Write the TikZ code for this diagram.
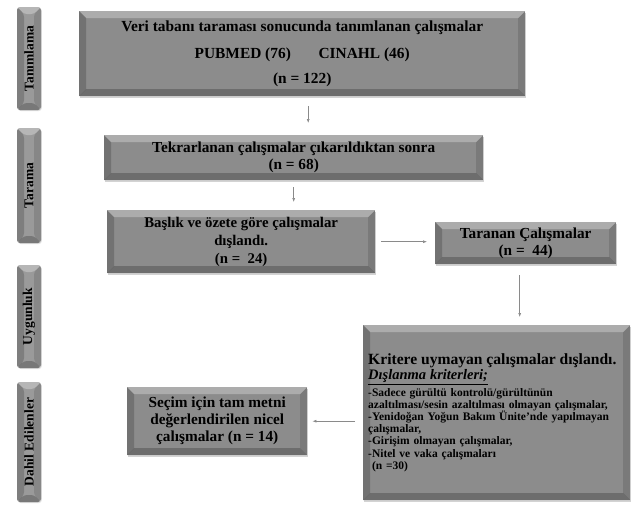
\documentclass[tikz,border=0pt]{standalone}
\usepackage{fontspec}
\setmainfont{Liberation Serif}
\usetikzlibrary{arrows.meta,shadows}
\definecolor{boxgray}{HTML}{8C8C8C}
\definecolor{stagegray}{HTML}{9A9A9A}
\definecolor{linegray}{HTML}{8A8A8A}

\tikzset{
	bevel/.style={path picture={
		\fill[white,opacity=.28] (path picture bounding box.north west) -- (path picture bounding box.north east)
			-- ([shift={(-7pt,-7pt)}]path picture bounding box.north east) -- ([shift={(7pt,-7pt)}]path picture bounding box.north west) -- cycle;
		\fill[black,opacity=.18] (path picture bounding box.north west) -- ([shift={(7pt,-7pt)}]path picture bounding box.north west)
			-- ([shift={(7pt,7pt)}]path picture bounding box.south west) -- (path picture bounding box.south west) -- cycle;
		\fill[black,opacity=.12] (path picture bounding box.north east) -- ([shift={(-7pt,-7pt)}]path picture bounding box.north east)
			-- ([shift={(-7pt,7pt)}]path picture bounding box.south east) -- (path picture bounding box.south east) -- cycle;
		\fill[black,opacity=.22] (path picture bounding box.south west) -- ([shift={(7pt,7pt)}]path picture bounding box.south west)
			-- ([shift={(-7pt,7pt)}]path picture bounding box.south east) -- (path picture bounding box.south east) -- cycle;
	}},
	stagebox/.style={fill=stagegray, bevel, rounded corners=3pt, minimum width=24pt, inner sep=0pt,
		drop shadow={opacity=.25,shadow xshift=.8pt,shadow yshift=-1pt},
		font=\bfseries\fontsize{13.5}{15}\selectfont},
	flowbox/.style={fill=boxgray, bevel, anchor=north west, inner sep=0pt, align=center,
		drop shadow={opacity=.35,shadow xshift=1pt,shadow yshift=-1.5pt},
		font=\bfseries\fontsize{15.3}{17}\selectfont},
	flow/.style={draw=linegray, line width=.6pt, -{Latex[length=4pt,width=3pt]}},
}

\begin{document}
\begin{tikzpicture}[x=1pt,y=-1pt]
	\useasboundingbox (0,0) rectangle (635,506);
	% stages
	\node[stagebox, minimum height=103pt] (identify) at (29,58.5) {\rotatebox{90}{Tanımlama}};
	\node[stagebox, minimum height=115pt] (screen) at (29,185.5) {\rotatebox{90}{Tarama}};
	\node[stagebox, minimum height=103pt] (eligible) at (29,316.5) {\rotatebox{90}{Uygunluk}};
	\node[stagebox, minimum height=120pt] (included) at (29,442) {\rotatebox{90}{Dahil Edilenler}};
	% boxes
	\node[flowbox, minimum width=446pt, minimum height=85pt, font=\bfseries\fontsize{15.4}{17}\selectfont] (found) at (79,11)
		{Veri tabanı taraması sonucunda tanımlanan çalışmalar\\[10pt]
		 PUBMED (76)\hspace{1.8em}CINAHL (46)\\[8pt]
		 (n = 122)};
	\node[flowbox, minimum width=379pt, minimum height=45pt] (dedup) at (104,135)
		{Tekrarlanan çalışmalar çıkarıldıktan sonra\\(n = 68)};
	\node[flowbox, minimum width=268pt, minimum height=63pt, font=\bfseries\fontsize{14.8}{18}\selectfont] (title) at (107,210)
		{Başlık ve özete göre çalışmalar\\dışlandı.\\(n =~~24)};
	\node[flowbox, minimum width=181pt, minimum height=42pt] (screened) at (435,222)
		{Taranan Çalışmalar\\(n =~~44)};
	\node[flowbox, minimum width=267pt, minimum height=175pt, align=left, text width=257pt, inner xsep=5pt,
		font=\bfseries\fontsize{11.5}{12.2}\selectfont] (excluded) at (363,325)
		{{\fontsize{15.6}{17}\selectfont Kritere uymayan çalışmalar dışlandı.}\\
		 \fontsize{14.5}{15}\selectfont\underline{\textit{Dışlanma kriterleri;}}\\[2.5pt]
		 \fontsize{11.5}{12.2}\selectfont
		 -Sadece gürültü kontrolü/gürültünün\\
		 azaltılması/sesin azaltılması olmayan çalışmalar,\\
		 -Yenidoğan Yoğun Bakım Ünite’nde yapılmayan\\
		 çalışmalar,\\
		 -Girişim olmayan çalışmalar,\\
		 -Nitel ve vaka çalışmaları\\
		 \ (n =30)};
	\node[flowbox, minimum width=180pt, minimum height=68pt] (final) at (127,387)
		{Seçim için tam metni\\değerlendirilen nicel\\çalışmalar (n = 14)};
	% arrows
	\draw[flow] ([xshift=6pt,yshift=-10pt]found.south) -- ([xshift=14.5pt,yshift=12pt]dedup.north);
	\draw[flow] ([yshift=-7pt]dedup.south) -- ([yshift=8pt]dedup.south |- title.north);
	\draw[flow] ([xshift=6pt]title.east) -- ([xshift=-8pt]title.east -| screened.west);
	\draw[flow] ([xshift=-6pt,yshift=-11pt]screened.south) -- ([xshift=-6pt,yshift=8pt]screened.south |- excluded.north);
	\draw[flow] ([xshift=-8pt]excluded.west |- final.east) -- ([xshift=5pt]final.east);
\end{tikzpicture}
\end{document}
